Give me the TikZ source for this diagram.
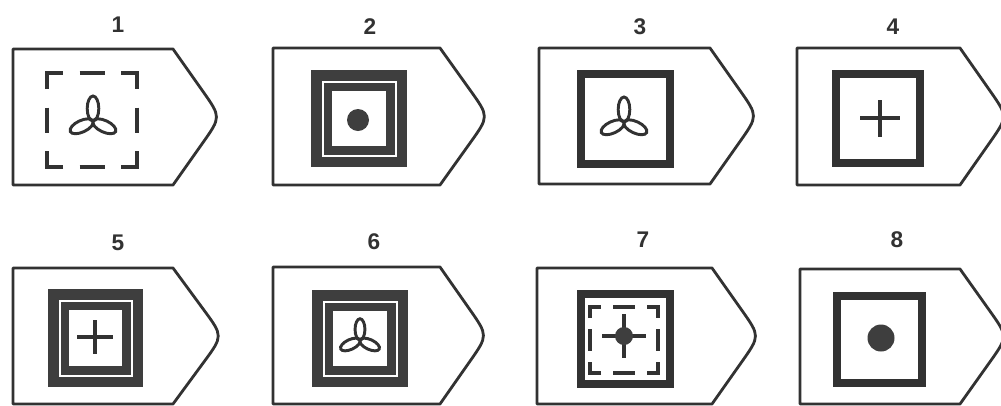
\documentclass[tikz,border=0pt]{standalone}
\usepackage{fontspec}
\setmainfont{Liberation Sans}
\usetikzlibrary{calc}
\definecolor{ink}{RGB}{50,50,50}
\definecolor{inkfill}{RGB}{62,62,62}
\tikzset{
  outline/.style={draw=ink, line width=2.1pt, line join=round},
  lab/.style={font=\fontsize{17}{17}\selectfont\bfseries, text=ink, inner sep=0pt},
  thicksq/.style={draw=ink, line width=6pt},
  dsq/.style={draw=ink, line width=2.3pt},
  crossline/.style={draw=ink, line width=3.2pt},
  petal/.style={draw=ink, line width=2.2pt},
  trefoil/.pic={\foreach \a in {0,115,-115}
     \draw[petal, rotate=\a] (0,-12.5) ellipse [x radius=5.8, y radius=12.5];}
}
% L, C, tip, T, B
\newcommand{\tagoutline}[5]{%
  \pgfmathsetmacro{\tagmid}{(#4+#5)/2}%
  \draw[outline] (#1,#4) -- (#2,#4) -- ($(#2,#4)!0.62!(#3,\tagmid)$)
    .. controls (#3,\tagmid) .. ($(#2,#5)!0.62!(#3,\tagmid)$)
    -- (#2,#5) -- (#1,#5) -- cycle;}
% x1,y1,x2,y2
\newcommand{\darksq}[4]{%
  \fill[inkfill] (#1,#2) rectangle (#3,#4);
  \draw[white, line width=1.5pt] ($(#1,#2)+(11.5,11.5)$) rectangle ($(#3,#4)+(-11.5,-11.5)$);
  \fill[white] ($(#1,#2)+(21,21)$) rectangle ($(#3,#4)+(-21,-21)$);}
\newcommand{\thicksquare}[4]{%
  \draw[thicksq] ($(#1,#2)+(4,4)$) rectangle ($(#3,#4)+(-4,-4)$);}
% x1,y1,x2,y2,leg,mid
\newcommand{\dashsquare}[6]{%
  \pgfmathsetmacro{\dsx}{(#1+#3)/2}%
  \pgfmathsetmacro{\dsy}{(#2+#4)/2}%
  \draw[dsq] (#1,#2+#5) -- (#1,#2) -- (#1+#5,#2);
  \draw[dsq] (#3-#5,#2) -- (#3,#2) -- (#3,#2+#5);
  \draw[dsq] (#3,#4-#5) -- (#3,#4) -- (#3-#5,#4);
  \draw[dsq] (#1+#5,#4) -- (#1,#4) -- (#1,#4-#5);
  \draw[dsq] (\dsx-#6/2,#2) -- (\dsx+#6/2,#2);
  \draw[dsq] (\dsx-#6/2,#4) -- (\dsx+#6/2,#4);
  \draw[dsq] (#1,\dsy-#6/2) -- (#1,\dsy+#6/2);
  \draw[dsq] (#3,\dsy-#6/2) -- (#3,\dsy+#6/2);}
\begin{document}
\begin{tikzpicture}[x=0.75pt,y=-0.75pt]
\useasboundingbox (0,0) rectangle (1001,405);
\fill[white] (0,0) rectangle (1001,405);

% labels
\node[lab] (l1) at (118,25) {1};
\node[lab] (l2) at (370,27) {2};
\node[lab] (l3) at (640,27) {3};
\node[lab] (l4) at (893,27) {4};
\node[lab] (l5) at (118,243) {5};
\node[lab] (l6) at (374,242) {6};
\node[lab] (l7) at (643,240) {7};
\node[lab] (l8) at (897,240) {8};

% row 1 outlines
\tagoutline{13}{173}{221}{49}{185}
\tagoutline{273}{440}{489}{48}{185}
\tagoutline{539}{710}{758}{48}{184}
\tagoutline{797}{960}{1008}{48}{185}
% row 2 outlines
\tagoutline{13}{173}{223}{268}{404}
\tagoutline{273}{440}{488}{267}{404}
\tagoutline{537}{712}{760}{268}{404}
\tagoutline{800}{960}{1008}{269}{404}

% 1
\dashsquare{47}{73}{137}{167}{16}{25}
\pic at (93,121) {trefoil};
% 2
\darksq{311}{70}{407}{167}
\fill[inkfill] (358,120) circle[radius=11];
% 3
\thicksquare{577}{70}{674}{168}
\pic at (624,122) {trefoil};
% 4
\thicksquare{832}{70}{924}{167}
\draw[crossline] (860,118) -- (900,118) (880,100) -- (880,137);
% 5
\darksq{48}{289}{143}{387}
\draw[crossline] (77,337) -- (113,337) (95,320) -- (95,354);
% 6
\darksq{312}{290}{408}{387}
\pic[scale=0.85] at (360,340) {trefoil};
% 7
\thicksquare{577}{290}{674}{388}
\dashsquare{590}{307}{658}{373}{11}{22}
\draw[crossline] (602,336) -- (646,336) (624,314) -- (624,358);
\fill[inkfill] (624,336) circle[radius=9];
% 8
\thicksquare{833}{292}{926}{387}
\fill[inkfill] (881,338) circle[radius=13.5];
\end{tikzpicture}
\end{document}
